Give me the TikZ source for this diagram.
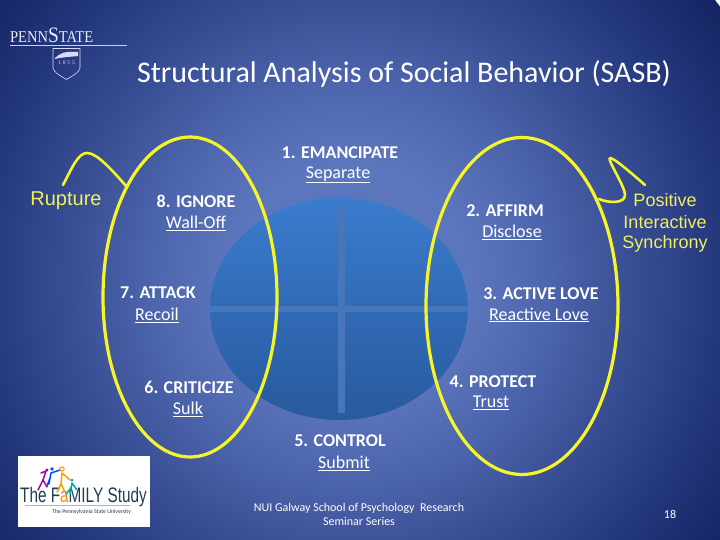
\documentclass[tikz,border=0pt]{standalone}
\usepackage{fontspec}
\setmainfont{Carlito}
\newfontfamily\arialf{Liberation Sans}
\newfontfamily\timesf{Liberation Serif}
\definecolor{bgA}{RGB}{92,118,190}
\definecolor{bgB}{RGB}{76,100,172}
\definecolor{bgC}{RGB}{58,80,150}
\definecolor{bgD}{RGB}{36,56,125}
\definecolor{bgE}{RGB}{20,36,98}
\definecolor{ylw}{RGB}{245,245,40}
\definecolor{ylt}{RGB}{240,240,90}
\definecolor{crossc}{RGB}{72,118,186}
\definecolor{inkc}{RGB}{28,62,84}
\definecolor{discT}{RGB}{58,124,205}
\definecolor{discB}{RGB}{40,90,158}
\pgfdeclareradialshading{slidebg}{\pgfpoint{0bp}{0bp}}{
 color(0bp)=(bgA); color(6.5bp)=(bgA); color(11bp)=(bgB); color(15bp)=(bgC); color(20bp)=(bgD); color(25bp)=(bgE); color(50bp)=(bgE)}
\usetikzlibrary{shapes.geometric}
\tikzset{
 x=1pt,y=-1pt,
 head/.style={text=white,font=\fontsize{18}{20}\selectfont\bfseries,inner sep=0pt},
 sub/.style={text=white,font=\fontsize{18}{20}\selectfont,inner sep=0pt},
 foot/.style={text=white,font=\fontsize{12}{14}\selectfont,inner sep=0pt},
 yel/.style={text=ylt,font=\arialf\fontsize{18}{22}\selectfont,inner sep=0pt},
 ring/.style={draw=ylw,line width=3.2pt,fill=none,ellipse,inner sep=0pt,minimum width=#1},
 hook/.style={draw=ylw,line width=2.6pt,line cap=round,line join=round},
 fig/.style={line width=1.5pt,line cap=round},
}
\begin{document}
\begin{tikzpicture}
\useasboundingbox (0,0) rectangle (720,540);
\begin{scope}
\clip (0,0) rectangle (720,540);
\shade[shading=slidebg] (350,280) circle (460);
\end{scope}
% central disc
\shade[top color=discT,bottom color=discB] (339,309) ellipse [x radius=129,y radius=111];
\fill[crossc] (338,205) rectangle (345,413);
\fill[crossc] (210,306) rectangle (468,312);
% ellipses
\node[ring=174pt,minimum height=320pt] (leftring) at (190,297) {};
\node[ring=192pt,minimum height=337pt] (rightring) at (522,306) {};
% title
\node[inner sep=0pt,text=white,font=\fontsize{30}{34}\selectfont] (title) at (404,74) {Structural Analysis of Social Behavior (SASB)};
% labels
\node[head] (h1) at (340,153) {1. EMANCIPATE};
\node[sub]  (s1) at (338,175) {\underline{Separate}};
\node[head] (h8) at (196,201) {8. IGNORE};
\node[sub]  (s8) at (196,223) {\underline{Wall-Off}};
\node[head] (h2) at (505,211) {2. AFFIRM};
\node[sub]  (s2) at (512,232) {\underline{Disclose}};
\node[head] (h7) at (158,293) {7. ATTACK};
\node[sub]  (s7) at (157,315) {\underline{Recoil}};
\node[head] (h3) at (541,294) {3. ACTIVE LOVE};
\node[sub]  (s3) at (539,315) {\underline{Reactive Love}};
\node[head] (h6) at (189,387) {6. CRITICIZE};
\node[sub]  (s6) at (188,409) {\underline{Sulk}};
\node[head] (h4) at (493,382) {4. PROTECT};
\node[sub]  (s4) at (491,403) {\underline{Trust}};
\node[head] (h5) at (340,441) {5. CONTROL};
\node[sub]  (s5) at (344,463) {\underline{Submit}};
\node[yel,font=\arialf\fontsize{20}{22}\selectfont] (rupture) at (66,201) {Rupture};
\node[yel] (pos) at (665,200) {Positive};
\node[yel] (inter) at (665,222) {Interactive};
\node[yel] (sync) at (665,244) {Synchrony};
\node[foot] (f1) at (359,508) {NUI Galway School of Psychology\ \ Research};
\node[foot] (f2) at (359,521) {Seminar Series};
\node[foot] (pg) at (670,514) {18};
% hooks
\coordinate (ra) at (63,185);
\coordinate (rb) at (126,186);
\coordinate (pa) at (599,199);
\coordinate (pb) at (645,185);
\draw[hook] (ra) .. controls (72,168) and (78,153) .. (87,153) .. controls (97,153) and (112,170) .. (rb);
\draw[hook] (pa) .. controls (608,203) and (625,204) .. (625,195) .. controls (625,186) and (606,158) .. (610,158) .. controls (614,158) and (630,172) .. (pb);
% Penn State logo
\node[anchor=base west,inner sep=0pt,text=white!92!blue,font=\timesf\fontsize{16.5}{18}\selectfont,xscale=0.88] (psu) at (10,43) {PENN{\fontsize{22}{22}\selectfont S}TATE};
\coordinate (la) at (10,45);
\coordinate (lb) at (127,45);
\draw[white!80!blue,line width=0.7pt] (la) -- (lb);
\draw[white!85!blue,line width=0.6pt,line join=round] (53,48.5) -- (80,48.5) -- (80,68) .. controls (79,73) and (72,76) .. (66.5,79.5) .. controls (61,76) and (54,73) .. (53,68) -- cycle;
\fill[white!85!blue] (55,58) .. controls (60,53) and (65,51) .. (78,52) -- (78,56) .. controls (70,57) and (62,57) .. (55,59) -- cycle;
\node[inner sep=0pt,text=white!85!blue,font=\timesf\fontsize{5.5}{6}\selectfont] (yr) at (66.5,63) {1\,\,8\,\,5\,\,5};
% Family Study logo
\fill[white] (18,456) rectangle (150,527);
\node[anchor=base west,inner sep=0pt,text=inkc,font=\arialf\fontsize{21}{22}\selectfont,xscale=0.73] (fam) at (20,502) {The F{\color{orange!90!yellow}a}MILY Study};
\coordinate (pl) at (25,505.5);
\coordinate (pr) at (130,505.5);
\draw[magenta!45,line width=0.8pt] (pl) -- (pr);
\node[anchor=base west,inner sep=0pt,text=inkc,font=\fontsize{5.8}{6}\selectfont] (famsub) at (52,513) {The Pennsylvania State University};
% figures
\draw[fig,violet!70!magenta] (46,471) -- (43,480) -- (38,490) (43,480) -- (47,487) (41,473) -- (46,471);
\fill[violet!70!magenta] (47,470) circle (1.6);
\draw[fig,blue!70!cyan] (51,473) -- (49,484) (50,478) -- (47,486) (51,473) -- (60,470);
\fill[blue!70!cyan] (52,469) circle (1.8);
\draw[fig,orange!80!yellow] (62,473) -- (61,484) -- (57,492) (61,484) -- (65,492) (62,473) -- (70,480);
\draw[orange!80!yellow,line width=1pt] (62,469) circle (2.2);
\draw[fig,teal!70!cyan] (72,483) -- (70,494) (72,483) -- (77,490) (71,488) -- (66,494);
\fill[teal!70!cyan] (72,480) circle (1.5);
\end{tikzpicture}
\end{document}
